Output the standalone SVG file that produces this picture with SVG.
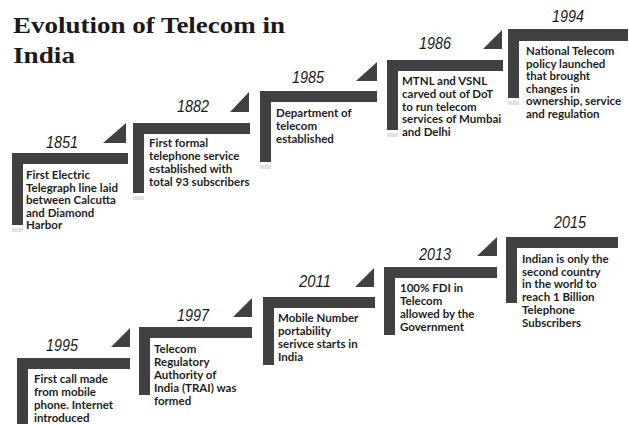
<svg xmlns="http://www.w3.org/2000/svg" width="629" height="424" viewBox="0 0 629 424">
<style>
.bar{fill:#414141}
.tri{fill:#414141}
.ref{fill:#e2e2e2}
.yr{font-family:"Liberation Sans",Arial,sans-serif;font-style:italic;font-size:16px;fill:#1a1a1a;text-anchor:middle}
.tx{font-family:Lato,"Open Sans",sans-serif;font-weight:bold;font-size:11.5px;fill:#1e1e1e}
.title{font-family:"Liberation Serif","Times New Roman",serif;font-weight:bold;font-size:24px;fill:#1a1a1a}
</style>
<rect width="629" height="424" fill="#ffffff"/>
<g id="title">
<text class="title" x="13" y="33" textLength="272" lengthAdjust="spacingAndGlyphs">Evolution of Telecom in</text>
<text class="title" x="13" y="63" textLength="62" lengthAdjust="spacingAndGlyphs">India</text>
</g>
<g id="step-1851">
<path class="bar" d="M12 153 H128 V164 H23 V225 H12 Z"/>
<rect class="ref" x="12" y="228" width="11" height="4"/>
<polygon class="tri" points="103,143 126,143 126,123"/>
<text class="yr" x="62" y="148" textLength="32" lengthAdjust="spacingAndGlyphs">1851</text>
<text class="tx" x="26" y="179">First Electric<tspan x="26" dy="12.5">Telegraph line laid</tspan><tspan x="26" dy="12.5">between Calcutta</tspan><tspan x="26" dy="12.5">and Diamond</tspan><tspan x="26" dy="12.5">Harbor</tspan></text>
</g>
<g id="step-1882">
<path class="bar" d="M133 123 H250 V134 H144 V193 H133 Z"/>
<rect class="ref" x="133" y="196" width="11" height="4"/>
<polygon class="tri" points="230,112 249,112 249,92"/>
<text class="yr" x="193" y="112" textLength="32" lengthAdjust="spacingAndGlyphs">1882</text>
<text class="tx" x="149" y="147">First formal<tspan x="149" dy="13">telephone service</tspan><tspan x="149" dy="13">established with</tspan><tspan x="149" dy="13">total 93 subscribers</tspan></text>
</g>
<g id="step-1985">
<path class="bar" d="M260 91 H377 V102 H271 V162 H260 Z"/>
<rect class="ref" x="260" y="165" width="11" height="4"/>
<polygon class="tri" points="356,81 377,81 377,62"/>
<text class="yr" x="308" y="83" textLength="32" lengthAdjust="spacingAndGlyphs">1985</text>
<text class="tx" x="276" y="117">Department of<tspan x="276" dy="12.8">telecom</tspan><tspan x="276" dy="12.8">established</tspan></text>
</g>
<g id="step-1986">
<path class="bar" d="M387 60 H503 V71 H398 V130 H387 Z"/>
<rect class="ref" x="387" y="133" width="11" height="4"/>
<polygon class="tri" points="483,49 502,49 502,30"/>
<text class="yr" x="435" y="49" textLength="32" lengthAdjust="spacingAndGlyphs">1986</text>
<text class="tx" x="402" y="85">MTNL and VSNL<tspan x="402" dy="12.8">carved out of DoT</tspan><tspan x="402" dy="12.8">to run telecom</tspan><tspan x="402" dy="12.8">services of Mumbai</tspan><tspan x="402" dy="12.8">and Delhi</tspan></text>
</g>
<g id="step-1994">
<path class="bar" d="M508 29 H628 V41 H519 V98 H508 Z"/>
<rect class="ref" x="508" y="101" width="11" height="4"/>
<text class="yr" x="568" y="22" textLength="32" lengthAdjust="spacingAndGlyphs">1994</text>
<text class="tx" x="526" y="55">National Telecom<tspan x="526" dy="12.6">policy launched</tspan><tspan x="526" dy="12.6">that brought</tspan><tspan x="526" dy="12.6">changes in</tspan><tspan x="526" dy="12.6">ownership, service</tspan><tspan x="526" dy="12.6">and regulation</tspan></text>
</g>
<g id="step-1995">
<path class="bar" d="M17 358 H130 V369 H28 V430 H17 Z"/>
<polygon class="tri" points="111,347 130,347 130,328"/>
<text class="yr" x="62" y="351" textLength="32" lengthAdjust="spacingAndGlyphs">1995</text>
<text class="tx" x="34" y="383">First call made<tspan x="34" dy="13">from mobile</tspan><tspan x="34" dy="13">phone. Internet</tspan><tspan x="34" dy="13">introduced</tspan></text>
</g>
<g id="step-1997">
<path class="bar" d="M139 327 H252 V338 H150 V395 H139 Z"/>
<polygon class="tri" points="233,317 252,317 252,298"/>
<text class="yr" x="193" y="321" textLength="32" lengthAdjust="spacingAndGlyphs">1997</text>
<text class="tx" x="154" y="353">Telecom<tspan x="154" dy="13">Regulatory</tspan><tspan x="154" dy="13">Authority of</tspan><tspan x="154" dy="13">India (TRAI) was</tspan><tspan x="154" dy="13">formed</tspan></text>
</g>
<g id="step-2011">
<path class="bar" d="M263 297 H375 V308 H274 V365 H263 Z"/>
<polygon class="tri" points="355,287 374,287 374,268"/>
<text class="yr" x="315" y="287" textLength="32" lengthAdjust="spacingAndGlyphs">2011</text>
<text class="tx" x="278" y="322">Mobile Number<tspan x="278" dy="13">portability</tspan><tspan x="278" dy="13">serivce starts in</tspan><tspan x="278" dy="13">India</tspan></text>
</g>
<g id="step-2013">
<path class="bar" d="M384 267 H497 V278 H395 V335 H384 Z"/>
<polygon class="tri" points="477,256 497,256 497,237"/>
<text class="yr" x="435" y="260" textLength="32" lengthAdjust="spacingAndGlyphs">2013</text>
<text class="tx" x="400" y="292">100% FDI in<tspan x="400" dy="13">Telecom</tspan><tspan x="400" dy="13">allowed by the</tspan><tspan x="400" dy="13">Government</tspan></text>
</g>
<g id="step-2015">
<path class="bar" d="M506 237 H618 V248 H517 V303 H506 Z"/>
<text class="yr" x="570" y="228" textLength="32" lengthAdjust="spacingAndGlyphs">2015</text>
<text class="tx" x="522" y="263">Indian is only the<tspan x="522" dy="12.7">second country</tspan><tspan x="522" dy="12.7">in the world to</tspan><tspan x="522" dy="12.7">reach 1 Billion</tspan><tspan x="522" dy="12.7">Telephone</tspan><tspan x="522" dy="12.7">Subscribers</tspan></text>
</g>
<g id="connectors"></g>
</svg>
